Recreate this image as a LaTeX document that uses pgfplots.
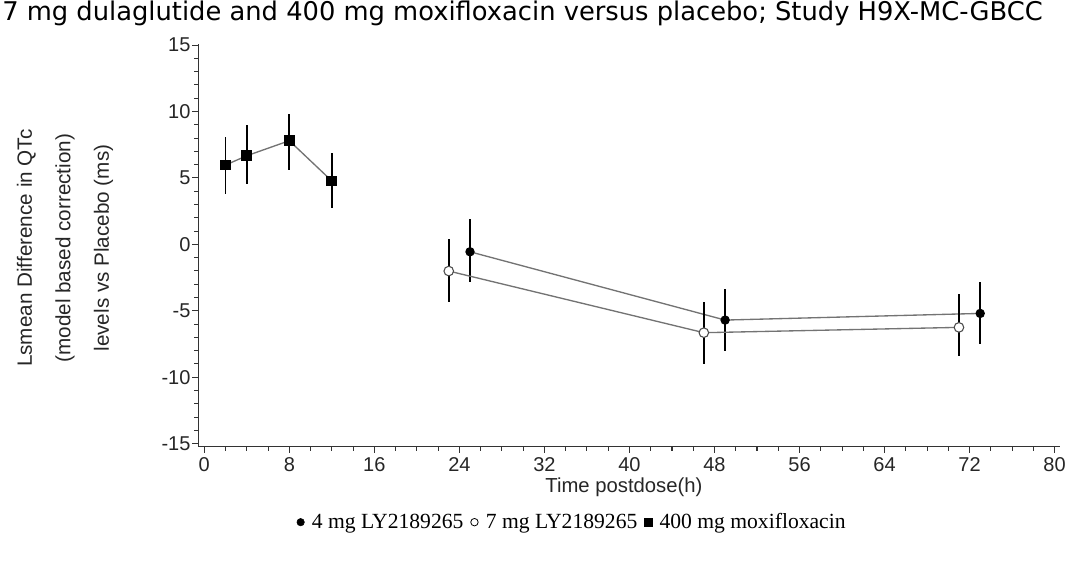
\documentclass[border=0pt]{standalone}
\usepackage{pgfplots}
\usepackage{pgfplotstable}
\pgfplotsset{compat=1.18}
\usepackage{fontspec}
\setmainfont{Liberation Sans}
\newfontfamily\titlefont{DejaVu Sans}
\newfontfamily\legfont{Liberation Serif}

\pgfplotstableread{
x y ep em
2 5.97 2.13 2.18
4 6.67 2.31 2.13
8 7.80 2.00 2.20
12 4.77 2.13 2.04
}\moxi
\pgfplotstableread{
x y ep em
25 -0.56 2.44 2.26
49 -5.70 2.31 2.31
73 -5.20 2.38 2.30
}\fourmg
\pgfplotstableread{
x y ep em
23 -2.01 2.41 2.31
47 -6.65 2.28 2.39
71 -6.25 2.51 2.14
}\sevenmg

\begin{document}
\begin{tikzpicture}
\useasboundingbox (0,0) rectangle (800pt,426pt);
\node[anchor=base west, inner sep=0pt] at (1.5pt,411pt) {\resizebox{780pt}{!}{\titlefont 7 mg dulaglutide and 400 mg moxifloxacin versus placebo; Study H9X-MC-GBCC}};
\begin{axis}[
  at={(148.7pt,91pt)}, anchor=south west, scale only axis,
  width=646pt, height=302.2pt,
  xmin=-0.56, xmax=80.5, ymin=-15.24, ymax=15.1,
  axis lines=left, axis line style={-, black!80, line width=1pt},
  xtick={0,8,...,80}, ytick={-15,-10,...,15},
  minor x tick num=3, minor y tick num=4,
  tick align=outside, major tick length=4.5pt, minor tick length=3pt,
  tick style={black!80, line width=0.8pt},
  ticklabel style={font=\fontsize{15}{17}\selectfont, text=black!85},
  yticklabel style={inner xsep=1.2pt},
  /pgf/number format/assume math mode=true,
  xlabel={Time postdose(h)},
  xlabel style={at={(axis description cs:0.494,-0.1)}, anchor=center, font=\fontsize{15.2}{18}\selectfont, text=black!85},
  ylabel={Lsmean Difference in QTc\\(model based correction)\\levels vs Placebo (ms)},
  ylabel style={at={(axis description cs:-0.1548,0.493)}, anchor=center, align=center, font=\fontsize{15.5}{28.9}\selectfont, text=black!85},
  legend style={at={(axis description cs:0.4333,-0.187)}, anchor=center, draw=none, fill=none,
    font=\legfont\fontsize{16.2}{19}\selectfont, legend columns=3, inner sep=0pt,
    /tikz/every even column/.append style={column sep=0.2em}},
  legend image code/.code={\path (0cm,0cm) (0.36cm,0cm); \draw[#1] plot coordinates {(0.14cm,0cm)};},
  legend cell align=left,
]
\addplot[forget plot, color=black!55, line width=1pt, mark=square*, mark size=3.5pt,
  mark options={solid, fill=black, draw=black},
  error bars/.cd, y dir=both, y explicit, error mark=none,
  error bar style={black, line width=1.3pt}]
  table[x=x, y=y, y error plus=ep, y error minus=em] {\moxi};
\addplot[forget plot, color=black!55, line width=1pt, mark=*, mark size=3pt,
  mark options={solid, fill=black, draw=black},
  error bars/.cd, y dir=both, y explicit, error mark=none,
  error bar style={black, line width=1.3pt}]
  table[x=x, y=y, y error plus=ep, y error minus=em] {\fourmg};
\addplot[forget plot, color=black!55, line width=1pt, mark=*, mark size=3.6pt,
  mark options={solid, fill=white, draw=black!70, line width=0.8pt},
  error bars/.cd, y dir=both, y explicit, error mark=none,
  error bar style={black, line width=1.3pt}]
  table[x=x, y=y, y error plus=ep, y error minus=em] {\sevenmg};
\addlegendimage{only marks, mark=*, mark size=2.8pt, black}
\addlegendentry{4 mg LY2189265}
\addlegendimage{only marks, mark=o, mark size=2.8pt, black, line width=0.6pt}
\addlegendentry{7 mg LY2189265}
\addlegendimage{only marks, mark=square*, mark size=2.8pt, black}
\addlegendentry{400 mg moxifloxacin}
\end{axis}
\end{tikzpicture}
\end{document}
